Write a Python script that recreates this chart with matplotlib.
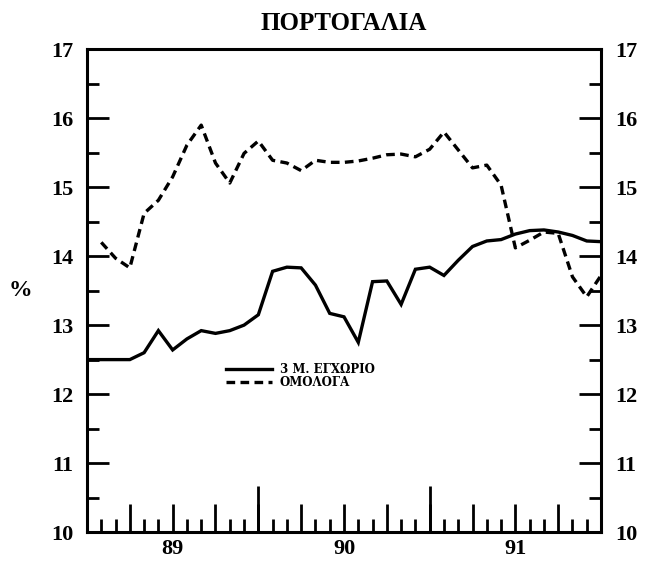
import numpy as np
import matplotlib
matplotlib.use("Agg")
import matplotlib.pyplot as plt
from matplotlib.ticker import MultipleLocator, FuncFormatter

# monthly data, July 1988 .. July 1991
months = np.arange(37)
deposit_3m = [12.5, 12.5, 12.5, 12.5, 12.6, 12.92, 12.64, 12.8, 12.92, 12.88,
              12.92, 13.0, 13.15, 13.78, 13.84, 13.83, 13.58, 13.17, 13.12, 12.75,
              13.63, 13.64, 13.3, 13.81, 13.84, 13.72, 13.94, 14.14, 14.22, 14.24,
              14.32, 14.37, 14.38, 14.35, 14.3, 14.22, 14.21]
bonds = [np.nan, 14.2, 13.97, 13.83, 14.62, 14.81, 15.15, 15.61, 15.9, 15.35,
         15.06, 15.49, 15.67, 15.39, 15.35, 15.24, 15.39, 15.36, 15.36, 15.38,
         15.42, 15.47, 15.48, 15.44, 15.55, 15.8, 15.54, 15.28, 15.32, 15.03,
         14.12, 14.23, 14.35, 14.33, 13.7, 13.41, 13.72]
year_labels = {1989: '89', 1990: '90', 1991: '91'}
labels = ['3 M. ΕΓΧΩΡΙΟ', 'ΟΜΟΛΟΓΑ']
title = 'ΠΟΡΤΟΓΑΛΙΑ'

x = 1988.5 + months / 12.0

plt.rcParams['font.family'] = ['Liberation Serif', 'DejaVu Serif']

fig = plt.figure(figsize=(6.54, 5.64), dpi=100)
ax = fig.add_axes([0.133, 0.0567, 0.786, 0.856])

ax.plot(x, deposit_3m, color='black', lw=2.4, solid_joinstyle='miter', label=labels[0])
ax.plot(x, bonds, color='black', lw=2.4, linestyle=(0, (2.6, 1.6)), label=labels[1])

ax.set_xlim(1988.5, 1991.5)
ax.set_ylim(10, 17)

for s in ax.spines.values():
    s.set_linewidth(2.2)

ax.yaxis.set_major_locator(MultipleLocator(1))
ax.yaxis.set_minor_locator(MultipleLocator(0.5))
ax.tick_params(axis='y', which='both', direction='in', left=True, right=True,
               labelleft=True, labelright=True, width=2)
ax.tick_params(axis='y', which='major', length=16, pad=10, labelsize=16)
ax.tick_params(axis='y', which='minor', length=8.5)

ax.xaxis.set_major_locator(MultipleLocator(0.25))
ax.xaxis.set_minor_locator(MultipleLocator(1 / 12))
ax.xaxis.set_major_formatter(FuncFormatter(
    lambda v, p: year_labels.get(int(round(v)), '') if abs(v - round(v)) < 1e-6 else ''))
ax.tick_params(axis='x', which='both', direction='in', top=False, width=2)
ax.tick_params(axis='x', which='major', length=20, pad=5, labelsize=16)
ax.tick_params(axis='x', which='minor', length=9.5)

for lab in ax.get_xticklabels() + ax.get_yticklabels():
    lab.set_fontweight('bold')

sec = ax.secondary_xaxis('bottom')
sec.set_xticks([1989.5, 1990.5])
sec.tick_params(direction='in', length=33, width=2, labelbottom=False)
sec.spines['bottom'].set_visible(False)

ax.set_ylabel('%', fontsize=17, fontweight='bold', rotation=0, labelpad=22, va='center')
ax.set_title(title, fontsize=18, fontweight='bold', pad=14)

leg = ax.legend(loc='center left', bbox_to_anchor=(0.27, 0.323), frameon=False,
                borderpad=0, borderaxespad=0, handlelength=3.9, handletextpad=0.68,
                labelspacing=0.05,
                prop={'family': 'DejaVu Serif', 'size': 8.5, 'weight': 'bold'})

fig.savefig('out.png', dpi=100)
